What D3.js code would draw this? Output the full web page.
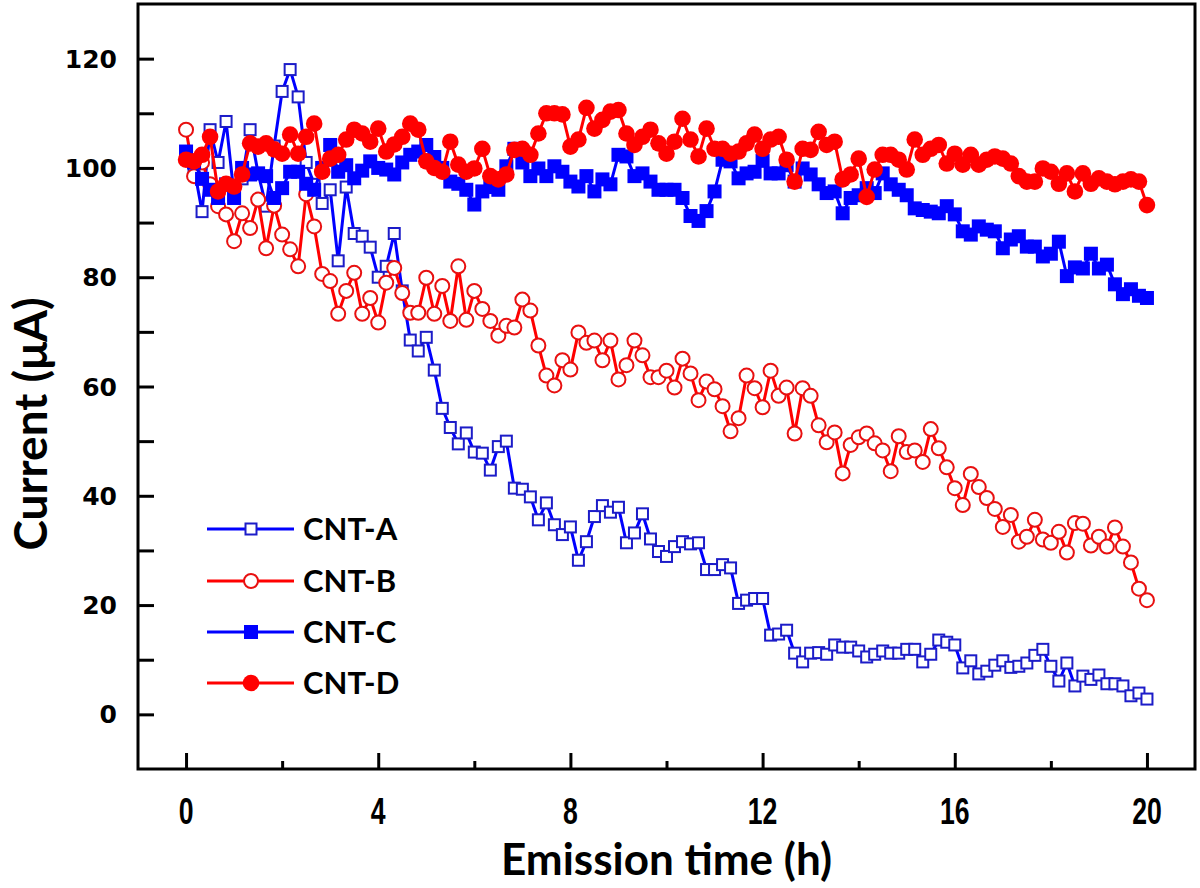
<!DOCTYPE html>
<html>
<head>
<meta charset="utf-8">
<script src="https://cdn.jsdelivr.net/npm/d3@7"></script>
<style>
  html, body { margin: 0; padding: 0; background: #fff; }
  svg { display: block; }
</style>
</head>
<body>
<svg id="chart" width="1200" height="888"></svg>
<script>
// ---------------- DATA ----------------
const seriesNames = ["CNT-A", "CNT-B", "CNT-C", "CNT-D"];
const sampleStepHours = 1 / 6; // one reading every 10 min, 0 .. 20 h
const xTickValues = [0, 4, 8, 12, 16, 20];
const xMinorTickValues = [2, 6, 10, 14, 18];
const yTickValues = [0, 20, 40, 60, 80, 100, 120];
const yMinorTickValues = [10, 30, 50, 70, 90, 110];

const cntA = [103,100,92,107,101,108.5,95,98,107,99,93,104,114,118,113,101,97,93.5,96,83,96.5,88,87.5,85.5,80,82,88,77.5,68.5,66.5,
  69,63,56,52.5,49.5,51.5,48,47.8,44.7,49,50,41.4,41.2,39.8,35.6,38.7,34.7,32.9,34.3,28.2,31.6,36.2,38.2,37,37.9,31.4,33.2,36.7,32.1,29.8,
  28.9,30.7,31.6,31.2,31.4,26.5,26.5,27.4,26.8,20.3,20.9,21.2,21.2,14.5,14.7,15.4,11.2,9.6,11.2,11.3,11,12.7,12.3,12.3,11.6,10.5,11,11.6,11.2,11.2,
  11.9,11.9,9.6,11,13.6,13.2,12.7,8.5,9.8,7.4,7.9,9,9.8,8.6,8.8,9.4,10.8,11.9,8.8,6.1,9.4,5.2,7,6.4,7.2,5.6,5.6,5.2,3.4,3.9,2.8];

const cntB = [107,98.5,101,97,93,91.5,86.6,91.7,89,94.2,85.3,93.1,87.8,85.1,82,95.2,89.3,80.6,79.3,73.3,77.5,80.8,73.3,76.2,71.7,79,81.7,77.1,73.5,73.5,
  79.9,73.3,78.4,72,82,72.2,77.5,74.2,72,69.3,71.1,70.8,75.9,73.9,67.5,62,60.2,64.8,63.1,69.9,68,68.4,64.8,68.4,61.3,63.9,68.4,65.7,61.7,61.7,
  62.9,59.8,65.1,62.4,57.5,60.9,59.5,56.4,51.8,54.2,62,59.7,56.2,62.9,58.3,59.8,51.4,59.7,58.3,52.9,49.8,51.6,44.1,49.3,50.7,51.4,49.6,48.3,44.5,50.9,
  48,48.3,46.2,52.2,48.7,45.2,41.4,38.3,44,41.6,39.6,37.6,34.3,36.5,31.6,32.5,35.6,32,31.4,33.4,29.6,35,34.9,30.9,32.5,30.7,34.2,30.7,27.8,23,20.9];

const cntC = [103,101,98,96,94.5,97,94.5,100,98.8,99,98.5,94.5,96.3,99.3,99.3,97.1,96,100,104.2,99.3,100.5,98.1,99.5,101.2,100,99.7,98.8,101,102.4,103,
  104.2,102,100,97.5,97.1,96,93.3,95.7,96.5,96,100.3,103.5,101,98.5,99.9,98.5,100.3,99.3,97.5,96.6,98.5,95.7,97.9,97,102.4,102.1,98.5,99,97.5,96,
  96,96,94.5,91.2,90.3,92.1,95.7,101.5,101.2,98.1,99,99.3,101.3,99,99,100.5,97.5,99.9,98.8,97,95.4,95.7,91.7,94.5,95,96.3,95.4,99,97,96,
  95,92.6,92.3,92,91.7,93,91.5,88.4,87.8,89.3,88.7,88.4,85.3,86.9,87.5,85.6,85.6,83.8,84.3,86.5,80.2,81.8,81.6,84.3,81.6,82.3,78.7,76.9,77.8,76.6,76.2];

const cntD = [101.5,101.2,102.4,105.7,95.7,97.1,96.6,98.8,104.5,103.9,104.5,103.4,102.6,106.1,102.6,105.7,108.1,99.3,101.7,102.4,105.2,107,106.3,104.8,107.2,103,104.3,105.7,108.1,107,
  101.2,100,99.3,104.8,100.6,99.3,99.9,103.5,98.5,97.9,98.8,103.3,103.5,102.4,106.3,110,110,109.8,103.9,105.2,111,107.2,108.8,110.3,110.6,106.3,104.2,105.7,107,104.5,
  102.6,104.8,109,105.2,102.1,107.2,103.5,103.5,102.6,103,104.5,106.1,103.5,105.2,105.7,101.5,97.5,103.5,103.3,106.6,104.2,104.8,97.9,98.8,101.7,94.7,99.7,102.4,102.4,101.5,
  99.7,105.2,102.4,103.5,104.2,100.8,102.6,100.6,102.4,100.6,101.5,102.1,101.7,100.8,98.5,97.5,97.5,99.9,99.3,97.1,99,95.7,99,97.1,98.1,97.5,97,97.5,97.9,97.5,93.2];

// ---------------- LAYOUT ----------------
const svg = d3.select("#chart");
const M = { left: 138, right: 1195, top: 4, bottom: 769 };
const x = d3.scaleLinear().domain([-1, 21]).range([M.left, M.right]);
const y = d3.scaleLinear().domain([-10, 130]).range([M.bottom, M.top]);

const BLUE = "#0000ff", BLUE_EDGE = "#1c1cc8", RED = "#ff0000";

const series = [
  { name: seriesNames[0], values: cntA, color: BLUE, edge: BLUE_EDGE, shape: "square", filled: false },
  { name: seriesNames[1], values: cntB, color: RED, edge: "#e81010", shape: "circle", filled: false },
  { name: seriesNames[2], values: cntC, color: BLUE, edge: BLUE, shape: "square", filled: true },
  { name: seriesNames[3], values: cntD, color: RED, edge: RED, shape: "circle", filled: true }
];

function drawMarker(g, s) {
  if (s.shape === "square") {
    const side = s.filled ? 14 : 11;
    g.append("rect").attr("x", -side / 2).attr("y", -side / 2)
      .attr("width", side).attr("height", side)
      .attr("fill", s.filled ? s.color : "#fff")
      .attr("stroke", s.edge).attr("stroke-width", s.filled ? 0 : 2);
  } else {
    const r = s.filled ? 8.3 : 7;
    g.append("circle").attr("r", r)
      .attr("fill", s.filled ? s.color : "#fff")
      .attr("stroke", s.edge).attr("stroke-width", s.filled ? 0 : 2);
  }
}

const line = d3.line().x(d => x(d.t)).y(d => y(d.v));
const plot = svg.append("g");

series.forEach(s => {
  const pts = s.values.map((v, i) => ({ t: i * sampleStepHours, v }));
  const g = plot.append("g");
  g.append("path").datum(pts).attr("d", line)
    .attr("fill", "none").attr("stroke", s.color).attr("stroke-width", 3)
    .attr("stroke-linejoin", "round");
  g.selectAll("g.m").data(pts).join("g").attr("class", "m")
    .attr("transform", d => `translate(${x(d.t)},${y(d.v)})`)
    .each(function () { drawMarker(d3.select(this), s); });
});

// ---------------- AXES ----------------
const axisG = svg.append("g");
axisG.append("rect").attr("x", M.left).attr("y", M.top)
  .attr("width", M.right - M.left).attr("height", M.bottom - M.top)
  .attr("fill", "none").attr("stroke", "#000").attr("stroke-width", 3);

const xAxis = d3.axisTop(x).tickValues(xTickValues).tickSize(16).tickFormat("");
axisG.append("g").attr("transform", `translate(0,${M.bottom})`).call(xAxis)
  .call(g => g.select(".domain").remove())
  .call(g => g.selectAll("line").attr("stroke-width", 3).attr("stroke", "#000"));
const xMinor = d3.axisTop(x).tickValues(xMinorTickValues).tickSize(8).tickFormat("");
axisG.append("g").attr("transform", `translate(0,${M.bottom})`).call(xMinor)
  .call(g => g.select(".domain").remove())
  .call(g => g.selectAll("line").attr("stroke-width", 3).attr("stroke", "#000"));
// x tick labels: condensed bold digits
axisG.append("g").selectAll("text").data(xTickValues).join("text")
  .attr("transform", d => `translate(${x(d)},824) scale(0.72,1)`)
  .attr("text-anchor", "middle")
  .attr("font-family", "'Liberation Sans', Arial, sans-serif")
  .attr("font-weight", "bold").attr("font-size", 37)
  .text(d => d);

const yAxis = d3.axisRight(y).tickValues(yTickValues.concat(yMinorTickValues)).tickSize(16).tickFormat("");
axisG.append("g").attr("transform", `translate(${M.left},0)`).call(yAxis)
  .call(g => g.select(".domain").remove())
  .call(g => g.selectAll("line").attr("stroke-width", 3).attr("stroke", "#000"));
axisG.append("g").selectAll("text").data(yTickValues).join("text")
  .attr("x", 117).attr("y", d => y(d)).attr("dy", "0.36em")
  .attr("text-anchor", "end")
  .attr("font-family", "'DejaVu Sans', sans-serif")
  .attr("font-weight", "bold").attr("font-size", 25)
  .text(d => d);

svg.append("text").attr("x", (M.left + M.right) / 2).attr("y", 875)
  .attr("text-anchor", "middle")
  .attr("font-family", "Lato, 'Open Sans', sans-serif").attr("font-weight", "bold").attr("font-size", 44)
  .text("Emission time (h)");
svg.append("text").attr("transform", "translate(47,424) rotate(-90)")
  .attr("text-anchor", "middle")
  .attr("font-family", "Lato, 'Open Sans', sans-serif").attr("font-weight", "bold").attr("font-size", 46)
  .text("Current (\u03bcA)");

// ---------------- LEGEND ----------------
const legendRows = [529, 581, 632, 683];
const leg = svg.append("g");
series.forEach((s, i) => {
  const g = leg.append("g").attr("transform", `translate(0,${legendRows[i]})`);
  g.append("line").attr("x1", 207).attr("x2", 294).attr("y1", 0).attr("y2", 0)
    .attr("stroke", s.color).attr("stroke-width", 3);
  const m = g.append("g").attr("transform", "translate(251,0)");
  drawMarker(m, s);
  g.append("text").attr("x", 303).attr("y", 0).attr("dy", "0.36em")
    .attr("font-family", "Lato, 'Open Sans', sans-serif").attr("font-weight", "bold").attr("font-size", 31)
    .text(s.name);
});
</script>
</body>
</html>
